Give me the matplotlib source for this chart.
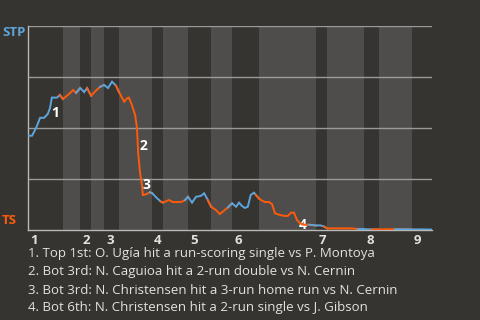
import numpy as np
import matplotlib
matplotlib.use("Agg")
from matplotlib import pyplot as plt

# win probability for STP (away team), one point per event
x_vals = [0.0, 1.1, 2.2, 3.3, 4.4, 5.4, 6.0, 6.5, 7.9, 8.7, 9.5,
          10.9, 12.3, 13.1, 14.2,
          15.3, 16.1, 17.2,
          18.5, 19.6, 20.7,
          21.8, 22.9, 24.0, 24.8,
          26.2, 27.0, 27.5, 28.3, 29.2, 29.7, 30.0, 30.5, 31.1, 31.3, 32.2, 33.2, 33.8,
          35.1, 36.2, 36.8,
          38.4, 39.5, 41.7, 42.8, 43.6,
          44.7, 45.8, 47.1, 48.0, 49.0, 49.9,
          51.2, 52.3, 53.4, 54.5, 55.6,
          56.7, 57.5, 58.3, 59.1, 59.9, 60.7, 61.6, 62.1, 62.9,
          63.8, 64.6, 65.7, 66.5, 67.3, 68.4, 69.8, 70.8, 71.7, 72.5, 73.3, 74.1, 75.2, 76.6, 78.5,
          79.6, 80.7, 81.5,
          85.0, 88.3, 89.9, 91.6,
          93.7, 95.6,
          100.0, 104.6,
          107.4, 110.1]
win_prob = [.462, .462, .500, .550, .550, .569, .598, .649, .649, .662, .642,
            .662, .686, .672, .696,
            .676, .696, .658,
            .683, .701, .711,
            .696, .727, .707, .676,
            .629, .646, .649, .613, .564, .500, .384, .286, .212, .172, .175, .185, .181,
            .157, .139, .134,
            .147, .137, .137, .147, .163,
            .134, .163, .167, .180, .147, .114,
            .098, .078, .095, .111, .131,
            .114, .134, .118, .108, .114, .172, .183, .172, .155,
            .144, .137, .137, .127, .082, .075, .069, .069, .085, .085, .049, .033, .026, .026, .022,
            .023, .017, .008,
            .008, .008, .005, .004,
            .003, .003,
            .004, .003,
            .003, .002]

# start of each half inning (top, bottom, top, ...)
half_starts = [0, 9.5, 14.2, 17.2, 20.7, 24.8, 33.8, 36.8, 43.6, 49.9,
               55.6, 62.9, 78.5, 81.5, 91.6, 95.6, 104.6]
x_end = 110.1
innings = ["1", "2", "3", "4", "5", "6", "7", "8", "9"]

events = [
    "1. Top 1st: O. Ugía hit a run-scoring single vs P. Montoya",
    "2. Bot 3rd: N. Caguioa hit a 2-run double vs N. Cernin",
    "3. Bot 3rd: N. Christensen hit a 3-run home run vs N. Cernin",
    "4. Bot 6th: N. Christensen hit a 2-run single vs J. Gibson",
]
event_idx = [7, 31, 34, 77]
event_offsets = [(2.2, -11), (3.6, 4.3), (2.9, 7.2), (2.2, -1.4)]

away, home = "STP", "TS"
bg = "#363430"
band = "#4e4d4b"
blue = "#5ea5dc"
orange = "#ff5a0a"
text_col = "#e2e2e0"

plt.rcParams['font.family'] = ['Open Sans', 'DejaVu Sans']

fig = plt.figure(figsize=(4.8, 3.2), dpi=100, facecolor=bg)
ax = fig.add_axes([28 / 480, 90 / 320, 404 / 480, 204 / 320])
ax.set_facecolor(bg)
ax.set_xlim(0, x_end)
ax.set_ylim(0, 1)

bounds = half_starts + [x_end]
for i in range(len(half_starts)):
    if i % 2 == 1:
        ax.axvspan(bounds[i], bounds[i + 1], color=band, lw=0, zorder=0)

for yv in [0.25, 0.5, 0.75, 1.0]:
    ax.axhline(yv, color="#9a9a98", lw=1, zorder=1)

x = np.array(x_vals)
p = np.array(win_prob)
for i in range(len(half_starts)):
    lo, hi = bounds[i], bounds[i + 1]
    m = np.where((x >= lo - 1e-9) & (x <= hi + 1e-9))[0]
    if m[0] > 0:
        m = np.concatenate([[m[0] - 1], m])
    col = blue if i % 2 == 0 else orange
    ax.plot(x[m], p[m], color=col, lw=1.4, zorder=3, solid_joinstyle="miter")

for k, (idx, off) in enumerate(zip(event_idx, event_offsets)):
    ax.annotate(str(k + 1), (x[idx], p[idx]), xytext=off, textcoords="offset points",
                ha="center", va="center", color="white", fontsize=10,
                fontweight="bold", zorder=2 if k == 3 else 4)

for sp in ["top", "right"]:
    ax.spines[sp].set_visible(False)
for sp in ["left", "bottom"]:
    ax.spines[sp].set_color("#b8b8b6")
    ax.spines[sp].set_linewidth(1)
ax.set_xticks([])
ax.set_yticks([])

for j, lab in enumerate(innings):
    ax.text(half_starts[2 * j] + 0.6, -0.02, lab, ha="left", va="top",
            color=text_col, fontsize=9.5, fontweight="bold",
            transform=ax.transData)

fig.text(2 / 480, 1 - 33 / 320, away, color=blue, fontsize=9.5, fontweight="bold",
         ha="left", va="center")
fig.text(2 / 480, 1 - 220 / 320, home, color=orange, fontsize=9.5, fontweight="bold",
         ha="left", va="center")

for j, ev in enumerate(events):
    fig.text(28 / 480, 1 - (254 + 18 * j) / 320, ev, color=text_col, fontsize=9.5,
             ha="left", va="center")

fig.savefig("out.png", dpi=100, facecolor=bg)
